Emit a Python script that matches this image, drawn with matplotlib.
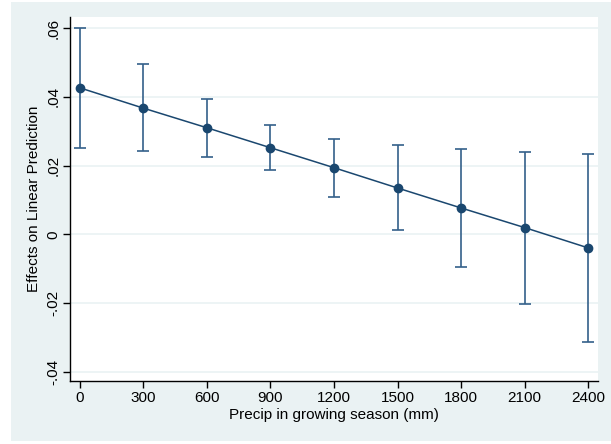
import matplotlib
matplotlib.use("Agg")
import matplotlib.pyplot as plt
from matplotlib.patches import Rectangle

# Average marginal effects at levels of growing-season precipitation
precip = [0, 300, 600, 900, 1200, 1500, 1800, 2100, 2400]
effect = [0.0426, 0.0367, 0.0310, 0.0252, 0.0194, 0.0135, 0.0077, 0.0020, -0.0039]
ci_low = [0.0252, 0.0242, 0.0224, 0.0187, 0.0110, 0.0012, -0.0094, -0.0203, -0.0312]
ci_high = [0.0600, 0.0496, 0.0395, 0.0317, 0.0276, 0.0259, 0.0248, 0.0241, 0.0234]

yticks = [-0.04, -0.02, 0, 0.02, 0.04, 0.06]
ytick_labels = ["-.04", "-.02", "0", ".02", ".04", ".06"]

plt.rcParams["font.family"] = ["Liberation Sans", "DejaVu Sans"]

navy = "#1A476F"
bar_col = "#34608A"
grid_col = "#EAF2F3"
bg_col = "#EAF2F3"

fig = plt.figure(figsize=(6.11, 4.44), dpi=100)
fig.patch.set_facecolor("white")
fig.patches.append(Rectangle((11 / 611, 3 / 444), 600 / 611, 439 / 444,
                             transform=fig.transFigure, facecolor=bg_col,
                             edgecolor="none", zorder=-10))

ax = fig.add_axes([70 / 611, 63 / 444, 528 / 611, 364 / 444])
ax.set_facecolor("white")

lower = [e - l for e, l in zip(effect, ci_low)]
upper = [h - e for e, h in zip(effect, ci_high)]
ax.errorbar(precip, effect, yerr=[lower, upper], fmt="none", ecolor=bar_col,
            elinewidth=1.2, capsize=4.5, capthick=1.2, zorder=2)
ax.plot(precip, effect, color=navy, lw=1.1, marker="o", markersize=6,
        markerfacecolor=navy, markeredgecolor=navy, zorder=3)

ax.set_xlim(-47, 2447)
ax.set_ylim(-0.0426, 0.0632)
ax.set_xticks(precip)
ax.set_xticklabels([str(p) for p in precip])
ax.set_yticks(yticks)
ax.set_yticklabels(ytick_labels, rotation=90, va="center")

ax.grid(axis="y", color=grid_col, lw=1.2, zorder=0)
ax.set_axisbelow(True)

for side in ["top", "right"]:
    ax.spines[side].set_visible(False)
for side in ["left", "bottom"]:
    ax.spines[side].set_color("black")
    ax.spines[side].set_linewidth(1.0)

ax.tick_params(axis="both", direction="out", length=5, width=1.0,
               colors="black", labelsize=11)
ax.tick_params(axis="x", pad=2)
ax.tick_params(axis="y", pad=2)

ax.set_xlabel("Precip in growing season (mm)", fontsize=11, labelpad=2)
ax.set_ylabel("Effects on Linear Prediction", fontsize=11, labelpad=4)

fig.savefig("out.png", dpi=100, facecolor=fig.get_facecolor())
